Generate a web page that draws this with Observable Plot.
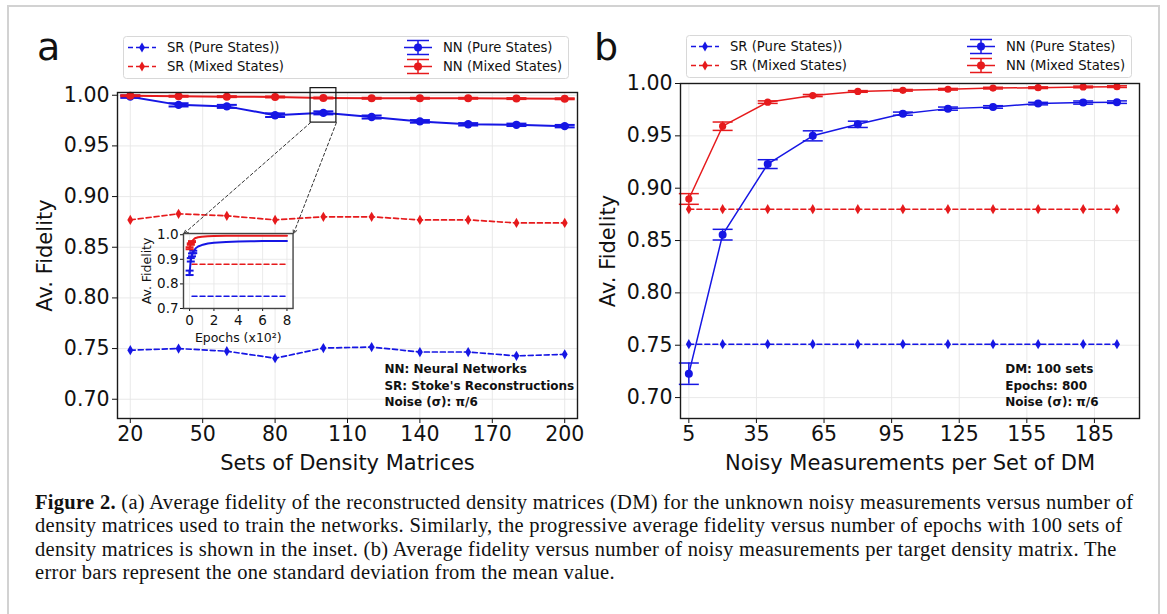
<!DOCTYPE html>
<html>
<head>
<meta charset="utf-8">
<script src="https://cdn.jsdelivr.net/npm/d3@7"></script>
<script src="https://cdn.jsdelivr.net/npm/@observablehq/plot@0.6"></script>
<style>
html, body { margin: 0; padding: 0; background: #fff; }
#fig { position: relative; width: 1167px; height: 614px; overflow: hidden; background: #fff; }
#border { position: absolute; left: 7px; top: 5px; width: 1153px; height: 700px; box-sizing: border-box; border: 2px solid #d2d2d2; }
.chart { position: absolute; }
#caption { position: absolute; left: 35px; top: 491px; font-family: "Liberation Serif", serif; font-size: 20.5px; letter-spacing: 0.3px; line-height: 23.3px; color: #111; white-space: nowrap; }
#caption b { font-weight: bold; }
#overlay { position: absolute; left: 0; top: 0; pointer-events: none; }
</style>
</head>
<body>
<div id="fig">
  <div id="border"></div>
  <div id="caption"><b>Figure 2.</b> (a) Average fidelity of the reconstructed density matrices (DM) for the unknown noisy measurements versus number of<br>density matrices used to train the networks. Similarly, the progressive average fidelity versus number of epochs with 100 sets of<br>density matrices is shown in the inset. (b) Average fidelity versus number of noisy measurements per target density matrix. The<br>error bars represent the one standard deviation from the mean value.</div>
</div>
<script>
// ---------------- DATA ----------------
// Panel a: sets of density matrices
const setsA = [20, 40, 60, 80, 100, 120, 140, 160, 180, 200];
const nnPureA = [0.9986, 0.9905, 0.9890, 0.9803, 0.9826, 0.9785, 0.9742, 0.9713, 0.9708, 0.9695];
const nnPureErrA = [0.0012, 0.0016, 0.0015, 0.0018, 0.0015, 0.0015, 0.0013, 0.0012, 0.0012, 0.0012];
const nnMixA = [0.9995, 0.9990, 0.9986, 0.9983, 0.9973, 0.9970, 0.9970, 0.9970, 0.9967, 0.9965];
const nnMixErrA = [0.0005, 0.0005, 0.0005, 0.0005, 0.0005, 0.0005, 0.0005, 0.0005, 0.0005, 0.0005];
const srPureA = [0.7484, 0.7500, 0.7474, 0.7405, 0.7505, 0.7515, 0.7466, 0.7466, 0.7428, 0.7443];
const srMixA = [0.877, 0.883, 0.881, 0.877, 0.880, 0.880, 0.877, 0.877, 0.874, 0.874];
const xTicksA = [20, 50, 80, 110, 140, 170, 200];

// Panel b: noisy measurements per set of DM
const measB = [5, 20, 40, 60, 80, 100, 120, 140, 160, 180, 195];
const nnPureB = [0.7228, 0.8556, 0.9230, 0.9500, 0.9610, 0.9712, 0.9760, 0.9776, 0.9808, 0.9818, 0.9822];
const nnPureErrB = [0.0102, 0.0051, 0.0042, 0.0048, 0.0030, 0.0015, 0.0015, 0.0012, 0.0012, 0.0015, 0.0012];
const nnMixB = [0.8897, 0.9592, 0.9822, 0.9885, 0.9924, 0.9935, 0.9945, 0.9956, 0.9960, 0.9967, 0.9970];
const nnMixErrB = [0.0051, 0.0040, 0.0012, 0.0010, 0.0008, 0.0008, 0.0008, 0.0008, 0.0008, 0.0008, 0.0008];
const srPureB = [0.751, 0.751, 0.751, 0.751, 0.751, 0.751, 0.751, 0.751, 0.751, 0.751, 0.751];
const srMixB = [0.880, 0.880, 0.880, 0.880, 0.880, 0.880, 0.880, 0.880, 0.880, 0.880, 0.880];
const xTicksB = [5, 35, 65, 95, 125, 155, 185];

const yTicks = [0.70, 0.75, 0.80, 0.85, 0.90, 0.95, 1.00];

// Inset: epochs (x10^2) with 100 sets
const epochs = [0, 0.1, 0.2, 0.3, 0.4, 0.5, 0.7, 1, 1.5, 2, 3, 4, 5, 6, 7, 8];
const insetMix = [0.945, 0.962, 0.972, 0.979, 0.984, 0.987, 0.990, 0.992, 0.994, 0.995, 0.996, 0.996, 0.996, 0.996, 0.996, 0.996];
const insetMixErr = [0.004, 0.003, 0.002, 0, 0, 0, 0, 0, 0, 0, 0, 0, 0, 0, 0, 0];
const insetPure = [0.845, 0.898, 0.918, 0.930, 0.938, 0.945, 0.952, 0.958, 0.964, 0.967, 0.970, 0.972, 0.973, 0.974, 0.974, 0.974];
const insetPureErr = [0.009, 0.007, 0.006, 0.005, 0, 0, 0, 0, 0, 0, 0, 0, 0, 0, 0, 0];
const insetSrEpochs = [0.2, 8];
const insetSrPure = [0.75, 0.75];
const insetSrMix = [0.88, 0.88];
const insetXTicks = [0, 2, 4, 6, 8];
const insetYTicks = [0.7, 0.8, 0.9, 1.0];

const legendLabels = ["SR (Pure States))", "SR (Mixed States)", "NN (Pure States)", "NN (Mixed States)"];
const notesA = ["NN: Neural Networks", "SR: Stoke's Reconstructions", "Noise (σ): π/6"];
const notesB = ["DM: 100 sets", "Epochs: 800", "Noise (σ): π/6"];

// annotation anchors (data coordinates of panel a)
const zoomBox = {x1: 94.7, x2: 105.4, y1: 0.973, y2: 1.007};
const insetBox = {x1: 42.2, x2: 87.6, yTop: 0.8633, yBot: 0.7893};

// ---------------- STYLE ----------------
const BLUE = "#1616e4", RED = "#e61a1c";
const GRID = "#e6e6e6";
const capSymbol = { draw(ctx, size) { const w = Math.sqrt(size / Math.PI); ctx.moveTo(-w, 0); ctx.lineTo(w, 0); } };
const rows = (xs, ys, es) => xs.map((x, i) => ({x, y: ys[i], e: es ? es[i] : 0}));

function nnMarks(data, color, lw, capR, dotR) {
  const eb = data.filter(d => d.e > 0);
  return [
    Plot.line(data, {x: "x", y: "y", stroke: color, strokeWidth: lw}),
    Plot.ruleX(eb, {x: "x", y1: d => d.y - d.e, y2: d => d.y + d.e, stroke: color, strokeWidth: lw}),
    Plot.dot(eb, {x: "x", y: d => d.y - d.e, symbol: capSymbol, r: capR, stroke: color, strokeWidth: lw}),
    Plot.dot(eb, {x: "x", y: d => d.y + d.e, symbol: capSymbol, r: capR, stroke: color, strokeWidth: lw}),
    dotR > 0 ? Plot.dot(data, {x: "x", y: "y", r: dotR, fill: color}) : null
  ];
}
function srMarks(data, color, lw, marker) {
  return [
    Plot.line(data, {x: "x", y: "y", stroke: color, strokeWidth: lw, strokeDasharray: "5,3"}),
    marker ? Plot.dot(data, {x: "x", y: "y", symbol: "diamond", r: 3.1, fill: color}) : null
  ];
}
const baseStyle = {fontFamily: "DejaVu Sans", fontSize: "20.5px", background: "transparent", color: "#111", overflow: "visible"};

// ---------------- PANEL A ----------------
const chartA = Plot.plot({
  width: 583, height: 480,
  marginLeft: 117, marginRight: 6, marginTop: 92, marginBottom: 62,
  x: {domain: [14.7, 205.3]},
  y: {domain: [0.681, 1.0027]},
  style: baseStyle,
  marks: [
    Plot.gridX(xTicksA, {stroke: GRID, strokeOpacity: 1, strokeWidth: 0.9}),
    Plot.gridY(yTicks, {stroke: GRID, strokeOpacity: 1, strokeWidth: 0.9}),
    Plot.axisX({ticks: xTicksA, tickSize: 5, tickPadding: 3, label: null}),
    Plot.axisY({ticks: yTicks, tickFormat: d3.format(".2f"), tickSize: 5, tickPadding: 3, label: null}),
    ...srMarks(rows(setsA, srPureA), BLUE, 1.7, true),
    ...srMarks(rows(setsA, srMixA), RED, 1.7, true),
    ...nnMarks(rows(setsA, nnPureA, nnPureErrA), BLUE, 2, 10, 4.2),
    ...nnMarks(rows(setsA, nnMixA, nnMixErrA), RED, 2, 10, 4),
    Plot.frame({stroke: "#1a1a1a", strokeWidth: 1.4}),
    Plot.rect([zoomBox], {x1: "x1", x2: "x2", y1: "y1", y2: "y2", fill: "none", stroke: "#111", strokeWidth: 1.2}),
    Plot.arrow([
      {x1: zoomBox.x1, y1: zoomBox.y1, x2: insetBox.x1, y2: insetBox.yTop},
      {x1: zoomBox.x2, y1: zoomBox.y1, x2: insetBox.x2, y2: insetBox.yTop}
    ], {x1: "x1", y1: "y1", x2: "x2", y2: "y2", stroke: "#333", strokeWidth: 1, strokeDasharray: "3,2.5", headLength: 7, headAngle: 50}),
    Plot.text([notesA.join("\n")], {x: 125.3, y: 0.7146, text: d => d, textAnchor: "start", lineAnchor: "middle", lineHeight: 1.37, fontSize: 12, fontWeight: "bold", fill: "#111"}),
    Plot.text(["Av. Fidelity"], {frameAnchor: "left", text: d => d, rotate: -90, dx: -72, textAnchor: "middle", lineAnchor: "middle", fontSize: 21, fill: "#111"}),
    Plot.text(["Sets of Density Matrices"], {frameAnchor: "bottom", text: d => d, dy: 44.5, textAnchor: "middle", lineAnchor: "middle", fontSize: 21, fill: "#111"})
  ]
});

// ---------------- PANEL B ----------------
const chartB = Plot.plot({
  width: 584, height: 480,
  marginLeft: 97, marginRight: 28, marginTop: 83, marginBottom: 62,
  x: {domain: [1.3, 205]},
  y: {domain: [0.68, 1.0]},
  style: baseStyle,
  marks: [
    Plot.gridX(xTicksB, {stroke: GRID, strokeOpacity: 1, strokeWidth: 0.9}),
    Plot.gridY(yTicks, {stroke: GRID, strokeOpacity: 1, strokeWidth: 0.9}),
    Plot.axisX({ticks: xTicksB, tickSize: 5, tickPadding: 3, label: null}),
    Plot.axisY({ticks: yTicks, tickFormat: d3.format(".2f"), tickSize: 5, tickPadding: 3, label: null}),
    ...srMarks(rows(measB, srPureB), BLUE, 1.5, true),
    ...srMarks(rows(measB, srMixB), RED, 1.5, true),
    ...nnMarks(rows(measB, nnPureB, nnPureErrB), BLUE, 1.5, 10, 4),
    ...nnMarks(rows(measB, nnMixB, nnMixErrB), RED, 1.5, 10, 3.6),
    Plot.frame({stroke: "#1a1a1a", strokeWidth: 1.4}),
    Plot.text([notesB.join("\n")], {x: 145.4, y: 0.7125, text: d => d, textAnchor: "start", lineAnchor: "middle", lineHeight: 1.37, fontSize: 12, fontWeight: "bold", fill: "#111"}),
    Plot.text(["Av. Fidelity"], {frameAnchor: "left", text: d => d, rotate: -90, dx: -72, textAnchor: "middle", lineAnchor: "middle", fontSize: 21, fill: "#111"}),
    Plot.text(["Noisy Measurements per Set of DM"], {frameAnchor: "bottom", text: d => d, dy: 44.5, textAnchor: "middle", lineAnchor: "middle", fontSize: 21, fill: "#111"})
  ]
});

// ---------------- INSET ----------------
const xA = chartA.scale("x"), yA = chartA.scale("y");
const insetLeftPx = xA.apply(insetBox.x1), insetTopPx = yA.apply(insetBox.yTop);
const insetFW = xA.apply(insetBox.x2) - insetLeftPx;
const insetFH = yA.apply(insetBox.yBot) - insetTopPx;
const iml = 44, imr = 6, imt = 6, imb = 40;
const chartI = Plot.plot({
  width: iml + insetFW + imr, height: imt + insetFH + imb,
  marginLeft: iml, marginRight: imr, marginTop: imt, marginBottom: imb,
  x: {domain: [-0.5, 8.5]},
  y: {domain: [0.7, 1.005]},
  style: {...baseStyle, fontSize: "13.5px"},
  marks: [
    Plot.frame({fill: "white"}),
    Plot.gridX(insetXTicks, {stroke: GRID, strokeOpacity: 1, strokeWidth: 0.8}),
    Plot.gridY(insetYTicks, {stroke: GRID, strokeOpacity: 1, strokeWidth: 0.8}),
    Plot.axisX({ticks: insetXTicks, tickSize: 3, tickPadding: 4, label: null}),
    Plot.axisY({ticks: insetYTicks, tickFormat: d3.format(".1f"), tickSize: 3, tickPadding: 2, label: null}),
    ...srMarks(rows(insetSrEpochs, insetSrPure), BLUE, 1.5, false),
    ...srMarks(rows(insetSrEpochs, insetSrMix), RED, 1.5, false),
    ...nnMarks(rows(epochs, insetPure, insetPureErr), BLUE, 2, 4, 0),
    ...nnMarks(rows(epochs, insetMix, insetMixErr), RED, 2, 4, 0),
    Plot.frame({stroke: "#444", strokeWidth: 1.4}),
    Plot.text(["Av. Fidelity"], {frameAnchor: "left", text: d => d, rotate: -90, dx: -37, textAnchor: "middle", lineAnchor: "middle", fontSize: 12.5, fill: "#111"}),
    Plot.text(["Epochs (x10²)"], {frameAnchor: "bottom", text: d => d, dy: 29.5, textAnchor: "middle", lineAnchor: "middle", fontSize: 12.5, fill: "#111"})
  ]
});

const fig = document.getElementById("fig");
chartA.classList.add("chart"); chartA.style.left = "0px"; chartA.style.top = "0px";
chartB.classList.add("chart"); chartB.style.left = "583px"; chartB.style.top = "0px";
chartI.classList.add("chart");
chartI.style.left = (insetLeftPx - iml) + "px";
chartI.style.top = (insetTopPx - imt) + "px";
fig.appendChild(chartA);
fig.appendChild(chartB);
fig.appendChild(chartI);

// ---------------- OVERLAY: panel letters + legends ----------------
const ov = d3.select(fig).append("svg").attr("id", "overlay").attr("width", 1167).attr("height", 614)
  .style("font-family", "DejaVu Sans");
ov.append("text").attr("x", 37).attr("y", 60).attr("font-size", 38).attr("fill", "#111").text("a");
ov.append("text").attr("x", 594).attr("y", 60).attr("font-size", 38).attr("fill", "#111").text("b");

function legend(x0, y0) {
  const g = ov.append("g").attr("transform", `translate(${x0},${y0})`);
  g.append("rect").attr("x", 0.5).attr("y", 0.5).attr("width", 445).attr("height", 42).attr("rx", 3)
    .attr("fill", "white").attr("fill-opacity", 0.85).attr("stroke", "#d8d8d8").attr("stroke-width", 1);
  const items = [
    {label: legendLabels[0], color: BLUE, type: "sr", col: 0, row: 0},
    {label: legendLabels[1], color: RED, type: "sr", col: 0, row: 1},
    {label: legendLabels[2], color: BLUE, type: "nn", col: 1, row: 0},
    {label: legendLabels[3], color: RED, type: "nn", col: 1, row: 1}
  ];
  const colX = [5, 281], rowY = [11.5, 30.5];
  items.forEach(it => {
    const hx = colX[it.col], cy = rowY[it.row], hw = 28, cx = hx + hw / 2;
    if (it.type === "sr") {
      g.append("line").attr("x1", hx).attr("x2", hx + hw).attr("y1", cy).attr("y2", cy)
        .attr("stroke", it.color).attr("stroke-width", 1.5).attr("stroke-dasharray", "5,3");
      g.append("path").attr("d", d3.symbol(d3.symbolDiamond, 30)()).attr("transform", `translate(${cx},${cy})`).attr("fill", it.color);
    } else {
      g.append("line").attr("x1", hx).attr("x2", hx + hw).attr("y1", cy).attr("y2", cy).attr("stroke", it.color).attr("stroke-width", 1.5);
      g.append("line").attr("x1", cx).attr("x2", cx).attr("y1", cy - 7).attr("y2", cy + 7).attr("stroke", it.color).attr("stroke-width", 1.5);
      [-7, 7].forEach(o => g.append("line").attr("x1", cx - 11).attr("x2", cx + 11).attr("y1", cy + o).attr("y2", cy + o).attr("stroke", it.color).attr("stroke-width", 1.5));
      g.append("circle").attr("cx", cx).attr("cy", cy).attr("r", 4).attr("fill", it.color);
    }
    g.append("text").attr("x", hx + 39).attr("y", cy).attr("dy", "0.35em").attr("font-size", 13.2).attr("fill", "#111").text(it.label);
  });
}
legend(123, 36);
legend(686, 35);
</script>
</body>
</html>
